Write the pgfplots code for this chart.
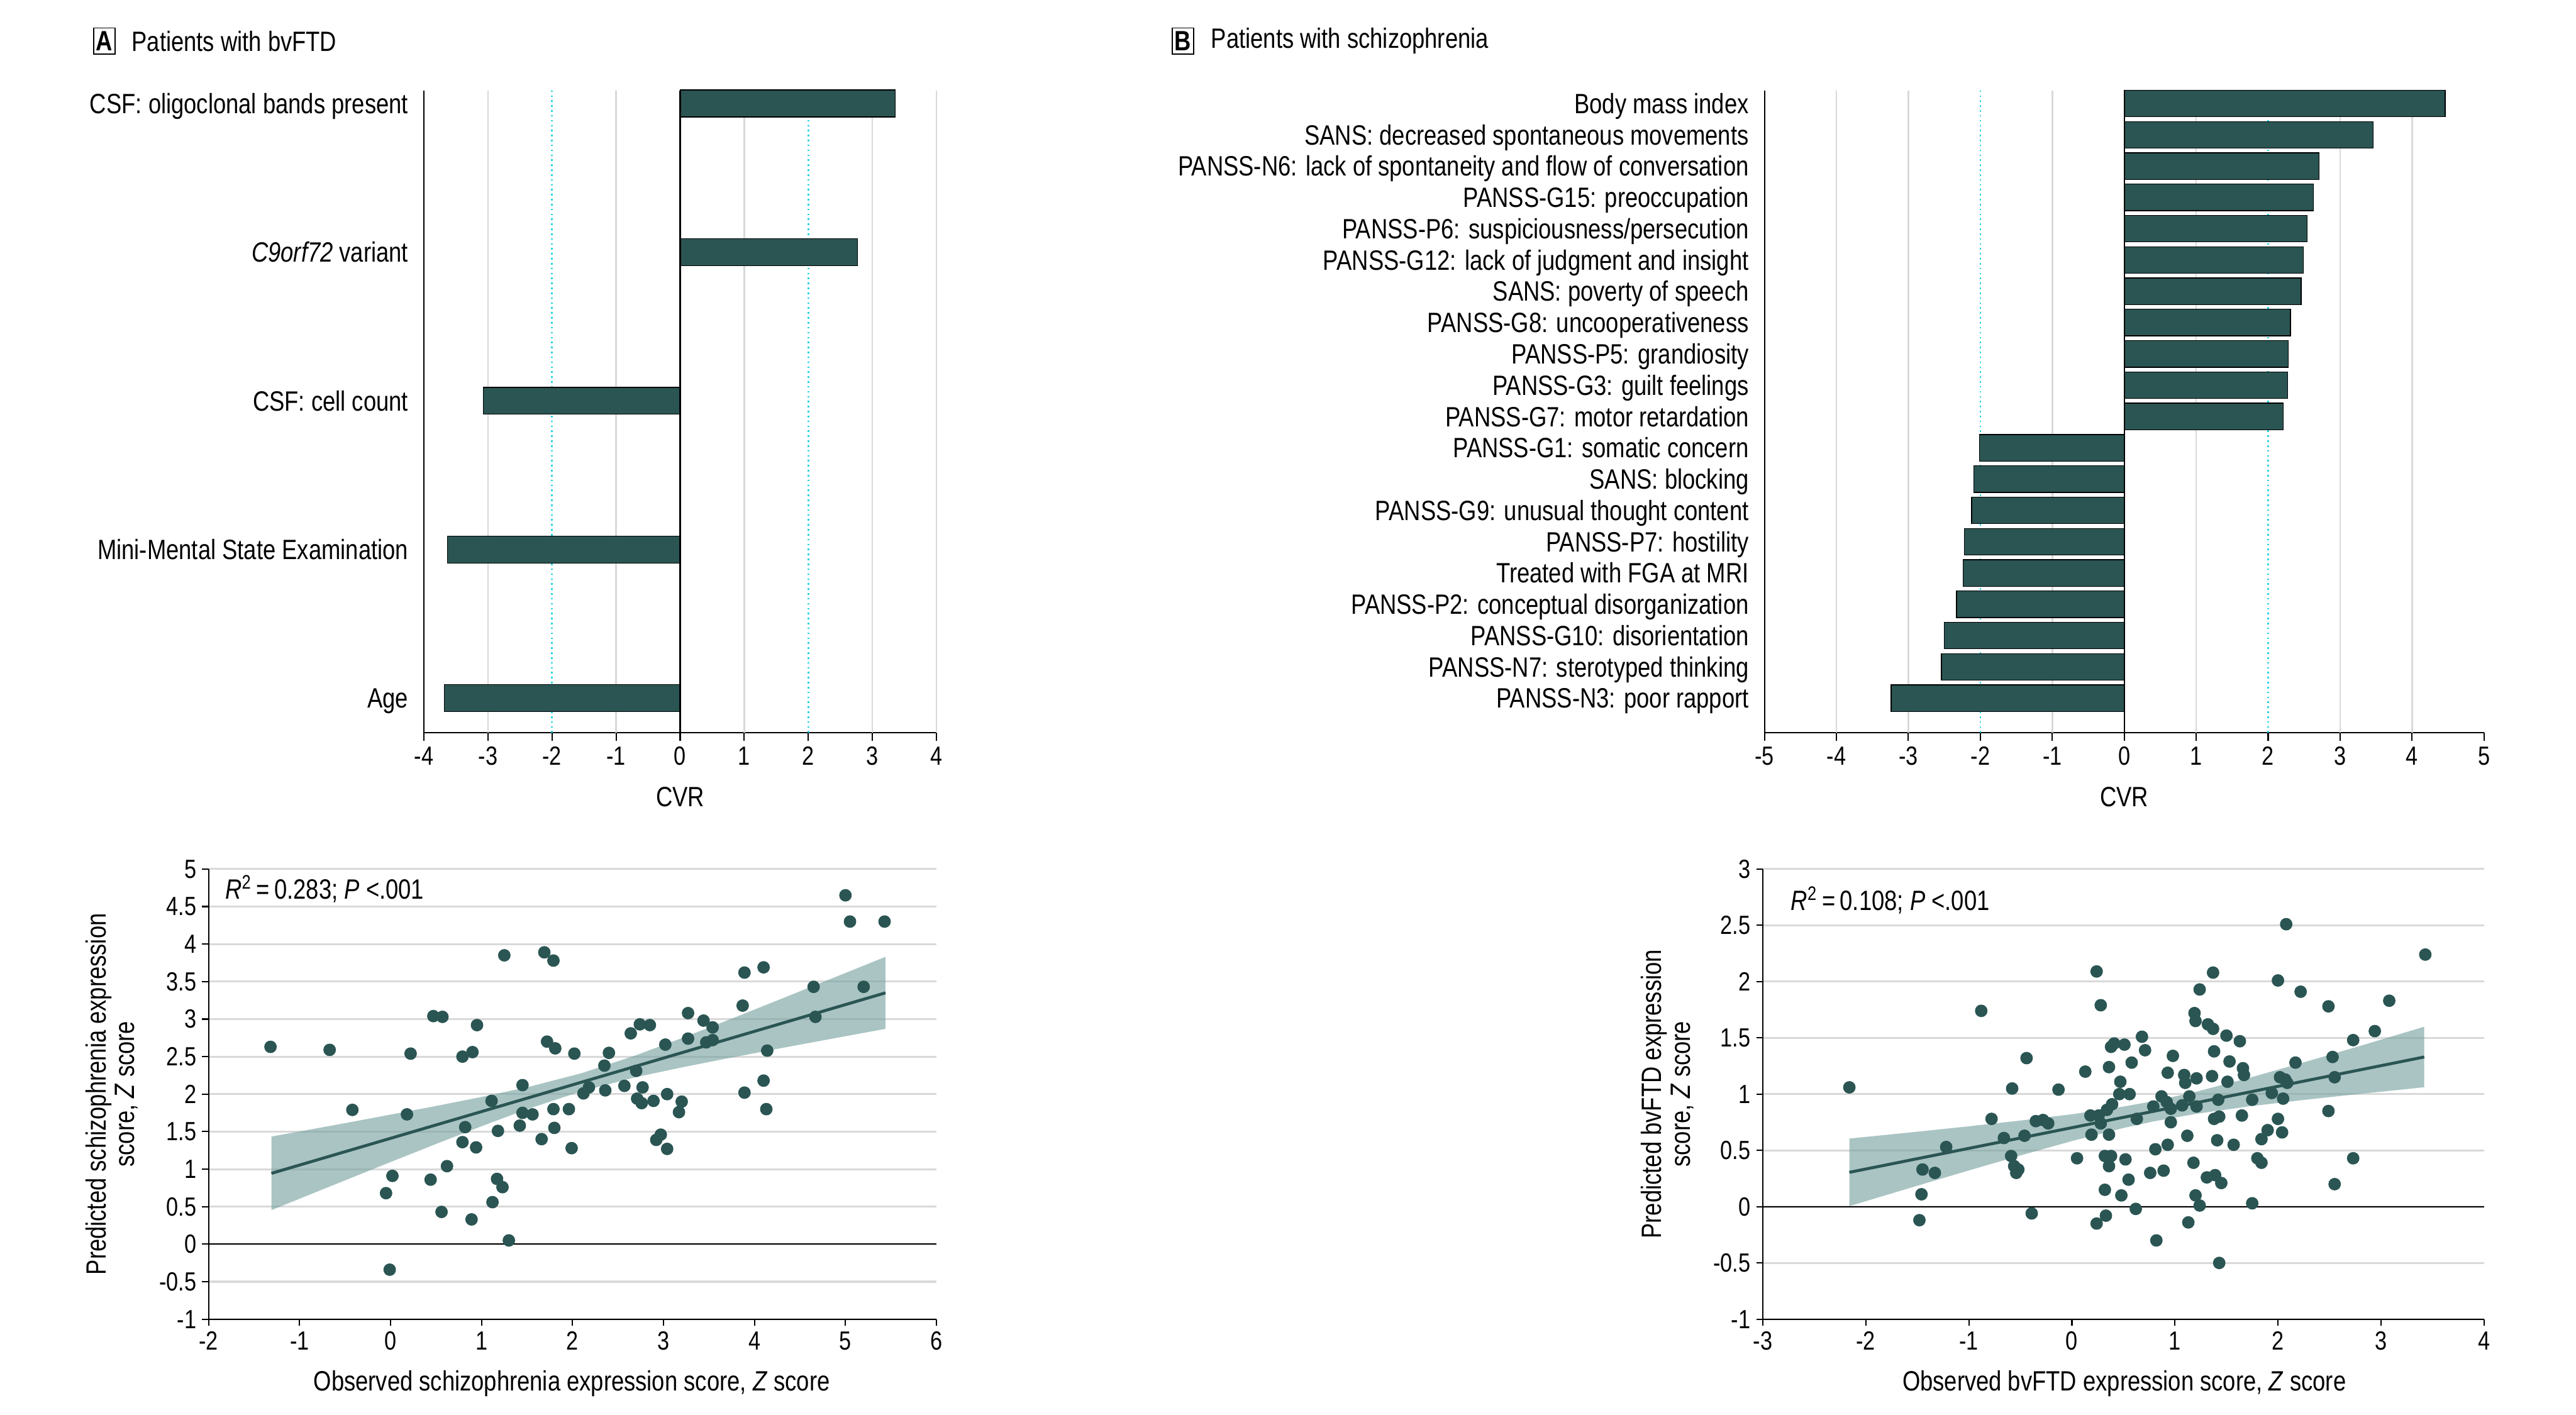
\documentclass[border=0pt]{standalone}
\usepackage{pgfplots}
\pgfplotsset{compat=1.18}
\usepackage{fontspec}
\setmainfont{Liberation Sans}[FakeStretch=0.82]

\definecolor{bar}{HTML}{2A5553}
\definecolor{band}{HTML}{709D9B}
\definecolor{gridgray}{HTML}{D9D9D9}
\definecolor{cvrline}{HTML}{2CD3E1}

\newcommand{\lab}{\fontsize{17}{17.5}\selectfont}
\newcommand{\tck}{\fontsize{16}{16}\selectfont}

\pgfplotsset{
  every non boxed x axis/.append style={x axis line style=-, xtick align=outside},
  every non boxed y axis/.append style={y axis line style=-, ytick align=outside},
  every axis/.append style={
    scale only axis, clip=false,
    /pgf/number format/assume math mode=true,
    tick label style={font=\tck},
    axis line style={line width=0.8pt},
    tick style={black, line width=0.8pt},
    axis x line=bottom, axis y line=left,
  },
  cvr/.style={
    ytick style={draw=none}, major tick length=5pt,
    typeset ticklabels with strut,
    yticklabel style={font=\lab, xshift=-1pt, yshift=-2.5pt},
  },
  sc/.style={
    major tick length=4pt,
    ymajorgrids, grid style={gridgray, line width=1.2pt},
  },
}

\begin{document}
\begin{tikzpicture}[x=1pt,y=1pt]
\useasboundingbox (0pt,0pt) rectangle (1568pt,-861pt);

% headers
\node[draw, line width=0.6pt, minimum width=13pt, minimum height=16pt, inner sep=0pt, font=\lab\bfseries] at (63.5pt,-25pt) {A};
\node[anchor=west, font=\lab, inner sep=0pt] at (80pt,-25pt) {Patients with bvFTD};
\node[draw, line width=0.6pt, minimum width=13pt, minimum height=16pt, inner sep=0pt, font=\lab\bfseries] at (720pt,-25pt) {B};
\node[anchor=west, font=\lab, inner sep=0pt] at (737pt,-25pt) {Patients with schizophrenia};

% ---------- A: bvFTD CVR ----------
\begin{axis}[cvr, at={(258pt,-446pt)}, anchor=south west,
  width=312pt, height=391pt,
  xmin=-4, xmax=4, ymin=-0.232, ymax=4.088,
  xtick={-4,...,4}, ytick={0,...,4},
  yticklabels={Age, Mini-Mental State Examination, CSF: cell count,
    \textit{C9orf72} variant, CSF: oligoclonal bands present}]
\addplot[gridgray, line width=1pt, unbounded coords=jump, forget plot] coordinates {
  (-3,-0.232) (-3,4.088) (nan,nan) (-1,-0.232) (-1,4.088) (nan,nan)
  (1,-0.232) (1,4.088) (nan,nan) (3,-0.232) (3,4.088) (nan,nan) (4,-0.232) (4,4.088)};
\addplot[cvrline, dotted, line width=1pt, unbounded coords=jump, forget plot] coordinates {
  (-2,-0.232) (-2,4.088) (nan,nan) (2,-0.232) (2,4.088)};
\addplot[xbar, bar width=16.4pt, fill=bar, draw=black, line width=0.5pt] coordinates {
  (-3.68,0) (-3.63,1) (-3.07,2) (2.77,3) (3.36,4)};
\addplot[black, line width=0.8pt, forget plot] coordinates {(0,-0.232) (0,4.088)};
\end{axis}
\node[font=\lab] at (414pt,-485pt) {CVR};

% ---------- B: schizophrenia CVR ----------
\begin{axis}[cvr, at={(1074pt,-446pt)}, anchor=south west,
  width=438pt, height=391pt,
  xmin=-5, xmax=5, ymin=-1.102, ymax=19.42,
  xtick={-5,...,5}, ytick={0,...,19},
  yticklabels={PANSS-N3: poor rapport, PANSS-N7: sterotyped thinking,
    PANSS-G10: disorientation, PANSS-P2: conceptual disorganization,
    Treated with FGA at MRI, PANSS-P7: hostility,
    PANSS-G9: unusual thought content, SANS: blocking,
    PANSS-G1: somatic concern, PANSS-G7: motor retardation,
    PANSS-G3: guilt feelings, PANSS-P5: grandiosity,
    PANSS-G8: uncooperativeness, SANS: poverty of speech,
    PANSS-G12: lack of judgment and insight, PANSS-P6: suspiciousness/persecution,
    PANSS-G15: preoccupation, PANSS-N6: lack of spontaneity and flow of conversation,
    SANS: decreased spontaneous movements, Body mass index}]
\addplot[gridgray, line width=1pt, unbounded coords=jump, forget plot] coordinates {
  (-4,-1.102) (-4,19.42) (nan,nan) (-3,-1.102) (-3,19.42) (nan,nan)
  (-1,-1.102) (-1,19.42) (nan,nan) (1,-1.102) (1,19.42) (nan,nan)
  (3,-1.102) (3,19.42) (nan,nan) (4,-1.102) (4,19.42)};
\addplot[cvrline, dotted, line width=1pt, unbounded coords=jump, forget plot] coordinates {
  (-2,-1.102) (-2,19.42) (nan,nan) (2,-1.102) (2,19.42)};
\addplot[xbar, bar width=16.2pt, fill=bar, draw=black, line width=0.5pt] coordinates {
  (-3.24,0) (-2.54,1) (-2.50,2) (-2.33,3) (-2.24,4) (-2.22,5) (-2.12,6)
  (-2.09,7) (-2.01,8) (2.21,9) (2.27,10) (2.28,11) (2.31,12) (2.46,13)
  (2.49,14) (2.54,15) (2.63,16) (2.71,17) (3.46,18) (4.46,19)};
\addplot[black, line width=0.8pt, forget plot] coordinates {(0,-1.102) (0,19.42)};
\end{axis}
\node[font=\lab] at (1293pt,-485pt) {CVR};

% ---------- A lower: schizophrenia expression ----------
\begin{axis}[sc, at={(127pt,-803pt)}, anchor=south west,
  width=443pt, height=274pt,
  xmin=-2, xmax=6, ymin=-1, ymax=5,
  xtick={-2,...,6}, ytick={-1,-0.5,0,0.5,1,1.5,2,2.5,3,3.5,4,4.5,5}]
\addplot[black, line width=0.8pt, forget plot] coordinates {(-2,0) (6,0)};
\addplot[fill=band, fill opacity=0.6, draw=none] coordinates {
  (-1.31,1.434) (-0.5,1.613) (0,1.727) (0.5,1.842) (1,1.962) (1.5,2.091)
  (2.1,2.279) (2.7,2.519) (3.2,2.746) (3.7,2.982) (4.2,3.224) (4.8,3.517) (5.44,3.83)
  (5.44,2.87) (4.8,2.727) (4.2,2.592) (3.7,2.476) (3.2,2.356) (2.7,2.227)
  (2.1,2.039) (1.5,1.799) (1,1.572) (0.5,1.336) (0,1.095) (-0.5,0.851) (-1.31,0.454)};
\addplot[bar, line width=1.8pt] coordinates {(-1.31,0.944) (5.44,3.35)};
\addplot[only marks, mark=*, mark size=3.6pt, mark options={fill=bar, draw=bar}] coordinates {
  (-1.32,2.63) (-0.67,2.59) (-0.42,1.79) (-0.05,0.68) (0.02,0.91) (-0.01,-0.34)
  (0.18,1.73) (0.22,2.54) (0.47,3.04) (0.57,3.03) (0.44,0.86) (0.56,0.43)
  (0.62,1.04) (0.79,2.50) (0.90,2.56) (0.95,2.92) (0.82,1.56) (0.79,1.36)
  (0.94,1.29) (0.89,0.33) (1.11,1.91) (1.18,1.51) (1.17,0.87) (1.23,0.76)
  (1.12,0.56) (1.25,3.85) (1.30,0.05) (1.45,2.12) (1.45,1.75) (1.56,1.73)
  (1.42,1.58) (1.66,1.40) (1.69,3.89) (1.79,3.78) (1.72,2.70) (1.81,2.61)
  (1.79,1.80) (1.80,1.55) (1.96,1.80) (1.99,1.28) (2.02,2.54) (2.12,2.01)
  (2.18,2.09) (2.35,2.38) (2.36,2.05) (2.40,2.55) (2.57,2.11) (2.64,2.81)
  (2.70,2.31) (2.74,2.93) (2.85,2.92) (2.71,1.94) (2.76,1.88) (2.77,2.09)
  (2.89,1.91) (2.92,1.39) (2.97,1.46) (3.02,2.66) (3.04,2.00) (3.04,1.27)
  (3.17,1.76) (3.20,1.90) (3.27,3.08) (3.27,2.74) (3.44,2.98) (3.54,2.89)
  (3.47,2.69) (3.54,2.72) (3.87,3.18) (3.89,3.62) (3.89,2.02) (4.10,3.69)
  (4.10,2.18) (4.14,2.58) (4.13,1.80) (4.65,3.43) (4.67,3.03) (5.00,4.65)
  (5.05,4.30) (5.43,4.30) (5.20,3.43)};
\end{axis}
\node[anchor=west, font=\lab, inner sep=0pt] at (137pt,-541pt) {\textit{R}\textsuperscript{2}\,=\,0.283; \textit{P} <.001};
\node[rotate=90, align=center, font=\lab] at (68pt,-666pt) {Predicted schizophrenia expression\\score, \textit{Z} score};
\node[font=\lab] at (348pt,-842pt) {Observed schizophrenia expression score, \textit{Z} score};

% ---------- B lower: bvFTD expression ----------
\begin{axis}[sc, at={(1073pt,-803pt)}, anchor=south west,
  width=439pt, height=274pt,
  xmin=-3, xmax=4, ymin=-1, ymax=3,
  xtick={-3,...,4}, ytick={-1,-0.5,0,0.5,1,1.5,2,2.5,3}]
\addplot[black, line width=0.8pt, forget plot] coordinates {(-3,0) (4,0)};
\addplot[fill=band, fill opacity=0.6, draw=none] coordinates {
  (-2.16,0.605) (-1.5,0.666) (-1,0.714) (-0.5,0.765) (0,0.821) (0.5,0.889)
  (0.8,0.939) (1.2,1.02) (1.7,1.139) (2.2,1.269) (2.8,1.429) (3.42,1.599)
  (3.42,1.061) (2.8,1.003) (2.2,0.943) (1.7,0.889) (1.2,0.824) (0.8,0.759)
  (0.5,0.699) (0,0.583) (-0.5,0.455) (-1,0.322) (-1.5,0.186) (-2.16,0.005)};
\addplot[bar, line width=1.8pt] coordinates {(-2.16,0.305) (3.42,1.33)};
\addplot[only marks, mark=*, mark size=3.6pt, mark options={fill=bar, draw=bar}] coordinates {
  (-2.16,1.06) (-1.45,0.33) (-1.33,0.30) (-1.46,0.11) (-1.48,-0.12) (-1.22,0.53)
  (-0.88,1.74) (-0.78,0.78) (-0.66,0.61) (-0.59,0.45) (-0.58,1.05) (-0.56,0.36)
  (-0.54,0.30) (-0.52,0.33) (-0.46,0.63) (-0.44,1.32) (-0.39,-0.06) (-0.35,0.76)
  (-0.28,0.77) (-0.23,0.74) (-0.13,1.04) (0.05,0.43) (0.13,1.20) (0.18,0.81)
  (0.19,0.64) (0.24,2.09) (0.24,-0.15) (0.26,0.81) (0.28,1.79) (0.28,0.74)
  (0.32,0.15) (0.33,-0.08) (0.32,0.45) (0.34,0.86) (0.36,1.24) (0.36,0.64)
  (0.36,0.36) (0.38,0.45) (0.38,1.42) (0.41,1.45) (0.39,0.91) (0.47,1.11)
  (0.46,1.00) (0.48,0.10) (0.51,1.44) (0.52,0.42) (0.55,0.24) (0.56,1.00)
  (0.58,1.28) (0.62,-0.02) (0.63,0.78) (0.68,1.51) (0.71,1.39) (0.76,0.30)
  (0.79,0.89) (0.81,0.51) (0.82,-0.30) (0.87,0.98) (0.89,0.32) (0.92,0.93)
  (0.93,1.19) (0.93,0.55) (0.96,0.87) (0.96,0.75) (0.98,1.34) (1.07,0.90)
  (1.09,1.17) (1.10,1.10) (1.12,0.63) (1.13,-0.14) (1.14,0.98) (1.18,0.39)
  (1.19,1.72) (1.20,1.65) (1.20,0.10) (1.21,0.89) (1.21,1.14) (1.24,1.93)
  (1.24,0.01) (1.31,0.26) (1.32,1.62) (1.36,1.16) (1.37,2.08) (1.37,1.58)
  (1.38,1.38) (1.38,0.78) (1.39,0.28) (1.41,0.59) (1.42,0.95) (1.43,0.80)
  (1.43,-0.50) (1.45,0.21) (1.50,1.52) (1.51,1.11) (1.53,1.29) (1.57,0.55)
  (1.63,1.47) (1.65,0.81) (1.66,1.23) (1.67,1.17) (1.75,0.95) (1.75,0.03)
  (1.80,0.43) (1.84,0.60) (1.84,0.39) (1.90,0.68) (1.94,1.01) (2.00,2.01)
  (2.00,0.78) (2.02,1.15) (2.04,0.66) (2.05,0.96) (2.08,2.51) (2.09,1.10)
  (2.07,1.13) (2.17,1.28) (2.22,1.91) (2.49,1.78) (2.49,0.85) (2.53,1.33)
  (2.55,1.15) (2.55,0.20) (2.73,1.48) (2.73,0.43) (2.94,1.56) (3.08,1.83)
  (3.43,2.24)};
\end{axis}
\node[anchor=west, font=\lab, inner sep=0pt] at (1090pt,-548pt) {\textit{R}\textsuperscript{2}\,=\,0.108; \textit{P} <.001};
\node[rotate=90, align=center, font=\lab] at (1015pt,-666pt) {Predicted bvFTD expression\\score, \textit{Z} score};
\node[font=\lab] at (1293pt,-842pt) {Observed bvFTD expression score, \textit{Z} score};

\end{tikzpicture}
\end{document}
